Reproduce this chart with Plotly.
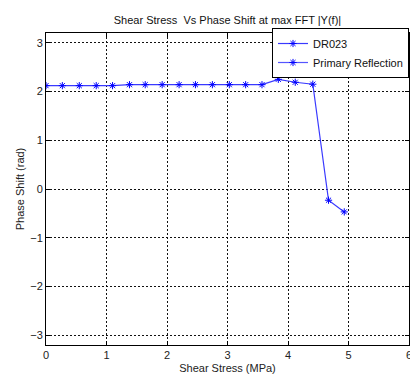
import plotly.graph_objects as go

shear_stress = [0.0, 0.27, 0.55, 0.83, 1.1, 1.38, 1.64, 1.92, 2.2, 2.47, 2.75, 3.03, 3.3, 3.57, 3.84, 4.12, 4.41, 4.67, 4.93]
phase_shift = [2.12, 2.12, 2.12, 2.12, 2.12, 2.14, 2.14, 2.14, 2.14, 2.14, 2.14, 2.14, 2.14, 2.14, 2.25, 2.19, 2.15, -0.23, -0.47]
x_ticks = [0, 1, 2, 3, 4, 5, 6]
y_ticks = [-3, -2, -1, 0, 1, 2, 3]

font = dict(family="Liberation Sans, Arial, sans-serif", size=11, color="#222222")

fig = go.Figure()
fig.add_trace(go.Scatter(
    x=shear_stress, y=phase_shift, mode="lines+markers", name="DR023",
    line=dict(color="#3a3aff", width=1.2),
    marker=dict(symbol="asterisk-open", size=6, line=dict(color="#0000ff", width=1), color="#0000ff"),
))
fig.add_trace(go.Scatter(
    x=[None], y=[None], mode="lines+markers", name="Primary Reflection",
    line=dict(color="#5555ff", width=1.2),
    marker=dict(symbol="asterisk-open", size=6, line=dict(color="#0000ff", width=1), color="#0000ff"),
))

axis_common = dict(
    showline=True, linecolor="black", linewidth=1, mirror="ticks",
    ticks="inside", ticklen=4, tickcolor="black",
    showgrid=True, gridcolor="#111111", gridwidth=1, griddash="2px,2px",
    zeroline=False, tickfont=font, ticklabeloverflow="allow",
)

fig.update_layout(
    width=410, height=374,
    margin=dict(l=46, r=1, t=33, b=29),
    paper_bgcolor="white", plot_bgcolor="white",
    font=font,
    title=dict(text="Shear Stress  Vs Phase Shift at max FFT |Y(f)|", x=0.5, xanchor="center",
               xref="paper", y=1 - 20 / 374, yref="container", yanchor="middle",
               font=dict(family="Liberation Sans, Arial, sans-serif", size=11, color="#111111")),
    xaxis=dict(range=[0, 6], tickvals=x_ticks, automargin=False,
               title=dict(text="Shear Stress (MPa)", standoff=7, font=font), **axis_common),
    yaxis=dict(range=[-3.2, 3.2], tickvals=y_ticks, automargin=False,
               title=dict(text="Phase Shift (rad)", standoff=3, font=font), **axis_common),
    legend=dict(x=1.0, y=1.016, xanchor="right", yanchor="top", bgcolor="white",
                bordercolor="black", borderwidth=1,
                font=dict(family="Liberation Sans, Arial, sans-serif", size=11, color="#111111"),
                tracegroupgap=0, itemwidth=30),
    showlegend=True,
)

fig.write_html("out.html")
